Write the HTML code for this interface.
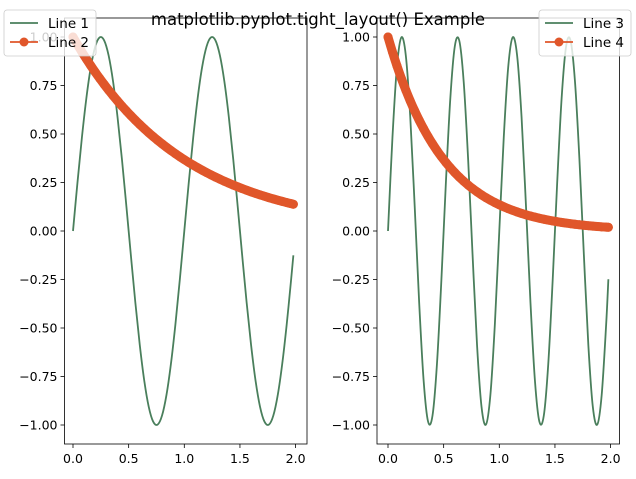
<!DOCTYPE html>
<html><head><meta charset="utf-8"><style>
html,body{margin:0;padding:0;background:#fff;}
svg{display:block;font-family:"DejaVu Sans","Liberation Sans",sans-serif;}
</style></head><body>
<svg id="fig" width="636" height="479" viewBox="0 0 636 479"></svg>
<script>
const tVals=[0,0.04,0.08,0.12,0.16,0.20,0.24,0.28,0.32,0.36,0.40,0.44,0.48,0.52,0.56,0.60,0.64,0.68,0.72,0.76,0.80,0.84,0.88,0.92,0.96,1.00,1.04,1.08,1.12,1.16,1.20,1.24,1.28,1.32,1.36,1.40,1.44,1.48,1.52,1.56,1.60,1.64,1.68,1.72,1.76,1.80,1.84,1.88,1.92,1.96,1.98];
const line1=[0,0.2487,0.4818,0.6845,0.8443,0.9511,0.9980,0.9823,0.9048,0.7705,0.5878,0.3681,0.1253,-0.1253,-0.3681,-0.5878,-0.7705,-0.9048,-0.9823,-0.9980,-0.9511,-0.8443,-0.6845,-0.4818,-0.2487,0,0.2487,0.4818,0.6845,0.8443,0.9511,0.9980,0.9823,0.9048,0.7705,0.5878,0.3681,0.1253,-0.1253,-0.3681,-0.5878,-0.7705,-0.9048,-0.9823,-0.9980,-0.9511,-0.8443,-0.6845,-0.4818,-0.2487,-0.1253];
const line2=[1,0.9608,0.9231,0.8869,0.8521,0.8187,0.7866,0.7558,0.7261,0.6977,0.6703,0.6440,0.6188,0.5945,0.5712,0.5488,0.5273,0.5066,0.4868,0.4677,0.4493,0.4317,0.4148,0.3985,0.3829,0.3679,0.3535,0.3396,0.3263,0.3135,0.3012,0.2894,0.2780,0.2671,0.2567,0.2466,0.2369,0.2276,0.2187,0.2101,0.2019,0.1940,0.1864,0.1791,0.1720,0.1653,0.1588,0.1526,0.1466,0.1409,0.1381];
const line3=[0,0.4818,0.8443,0.9980,0.9048,0.5878,0.1253,-0.3681,-0.7705,-0.9823,-0.9511,-0.6845,-0.2487,0.2487,0.6845,0.9511,0.9823,0.7705,0.3681,-0.1253,-0.5878,-0.9048,-0.9980,-0.8443,-0.4818,0,0.4818,0.8443,0.9980,0.9048,0.5878,0.1253,-0.3681,-0.7705,-0.9823,-0.9511,-0.6845,-0.2487,0.2487,0.6845,0.9511,0.9823,0.7705,0.3681,-0.1253,-0.5878,-0.9048,-0.9980,-0.8443,-0.4818,-0.2487];
const line4=[1,0.9231,0.8521,0.7866,0.7261,0.6703,0.6188,0.5712,0.5273,0.4868,0.4493,0.4148,0.3829,0.3535,0.3263,0.3012,0.2780,0.2567,0.2369,0.2187,0.2019,0.1864,0.1720,0.1588,0.1466,0.1353,0.1249,0.1153,0.1065,0.0983,0.0907,0.0837,0.0773,0.0714,0.0659,0.0608,0.0561,0.0518,0.0478,0.0442,0.0408,0.0376,0.0347,0.0321,0.0296,0.0273,0.0252,0.0233,0.0215,0.0198,0.0191];
const xTicks=[0,0.5,1,1.5,2];
const xTickLabels=["0.0","0.5","1.0","1.5","2.0"];
const yTicks=[1,0.75,0.5,0.25,0,-0.25,-0.5,-0.75,-1];
const yTickLabels=["1.00","0.75","0.50","0.25","0.00","\u22120.25","\u22120.50","\u22120.75","\u22121.00"];

const NS="http://www.w3.org/2000/svg";
const svg=document.getElementById('fig');
function mk(tag,attrs,parent){const e=document.createElementNS(NS,tag);for(const k in attrs)e.setAttribute(k,attrs[k]);(parent||svg).appendChild(e);return e;}
const GREEN="#4a7f5c",ORANGE="#e0562a";
function smoothPath(pts){let d="M"+pts[0][0]+","+pts[0][1];for(let i=0;i<pts.length-1;i++){const p0=pts[Math.max(0,i-1)],p1=pts[i],p2=pts[i+1],p3=pts[Math.min(pts.length-1,i+2)];const c1x=p1[0]+(p2[0]-p0[0])/6,c1y=p1[1]+(p2[1]-p0[1])/6,c2x=p2[0]-(p3[0]-p1[0])/6,c2y=p2[1]-(p3[1]-p1[1])/6;d+=` C${c1x.toFixed(2)},${c1y.toFixed(2)} ${c2x.toFixed(2)},${c2y.toFixed(2)} ${p2[0].toFixed(2)},${p2[1].toFixed(2)}`;}return d;}

function panel(left,right,x0px,sinData,expData,names,legendX){
  const top=18,bottom=444;
  const xs=v=>x0px+v*111.3;
  const ys=v=>231-v*194;
  const g=mk('g',{});
  
  
  xTicks.forEach((t,i)=>{const x=xs(t);
    mk('line',{x1:x,x2:x,y1:bottom,y2:bottom+4,stroke:'#000','stroke-width':0.8},g);
    const tx=mk('text',{x:x,y:bottom+19,'font-size':12.5,'text-anchor':'middle',fill:'#000'},g);tx.textContent=xTickLabels[i];
    
    });
  yTicks.forEach((t,i)=>{const y=ys(t);
    mk('line',{x1:left-4,x2:left,y1:y,y2:y,stroke:'#000','stroke-width':0.8},g);
    const tx=mk('text',{x:left-7,y:y+4.5,'font-size':12.5,'text-anchor':'end',fill:'#000'},g);tx.textContent=yTickLabels[i];
    
    });
  const p1=mk('path',{d:smoothPath(tVals.map((t,i)=>[xs(t),ys(sinData[i])])),fill:'none',stroke:GREEN,'stroke-width':1.8},g);
  
  
  const expPath=smoothPath(tVals.map((t,i)=>[xs(t),ys(expData[i])]));
  const p2=mk('path',{d:expPath,fill:'none',stroke:ORANGE,'stroke-width':9,'stroke-linecap':'round'},g);
  
  
  tVals.forEach((t,i)=>{const c=mk('circle',{cx:xs(t),cy:ys(expData[i]),r:4.5,fill:ORANGE},g);
    
    });
  mk('rect',{x:left,y:top,width:right-left,height:bottom-top,fill:'none',stroke:'#000','stroke-width':0.8},g);
  const lg=mk('g',{},g);
  
  
  mk('rect',{x:legendX,y:10,width:92,height:46,rx:3,fill:'#fff','fill-opacity':0.8,stroke:'#ccc','stroke-width':0.8},lg);
  mk('line',{x1:legendX+6,x2:legendX+34,y1:23,y2:23,stroke:GREEN,'stroke-width':1.8},lg);
  const t1=mk('text',{x:legendX+44,y:28,'font-size':13.5,fill:'#000'},lg);t1.textContent=names[0];
  
  
  mk('line',{x1:legendX+6,x2:legendX+34,y1:42,y2:42,stroke:ORANGE,'stroke-width':1.8},lg);
  mk('circle',{cx:legendX+20,cy:42,r:4.5,fill:ORANGE},lg);
  const t2=mk('text',{x:legendX+44,y:47,'font-size':13.5,fill:'#000'},lg);t2.textContent=names[1];
  
  
}
panel(64.5,307,73,line1,line2,["Line 1","Line 2"],4);
panel(377,619.5,388,line3,line4,["Line 3","Line 4"],539);
const title=mk('text',{x:318,y:25,'font-size':16.5,'text-anchor':'middle',fill:'#000'});
title.textContent="matplotlib.pyplot.tight_layout() Example";


</script>
</body></html>
